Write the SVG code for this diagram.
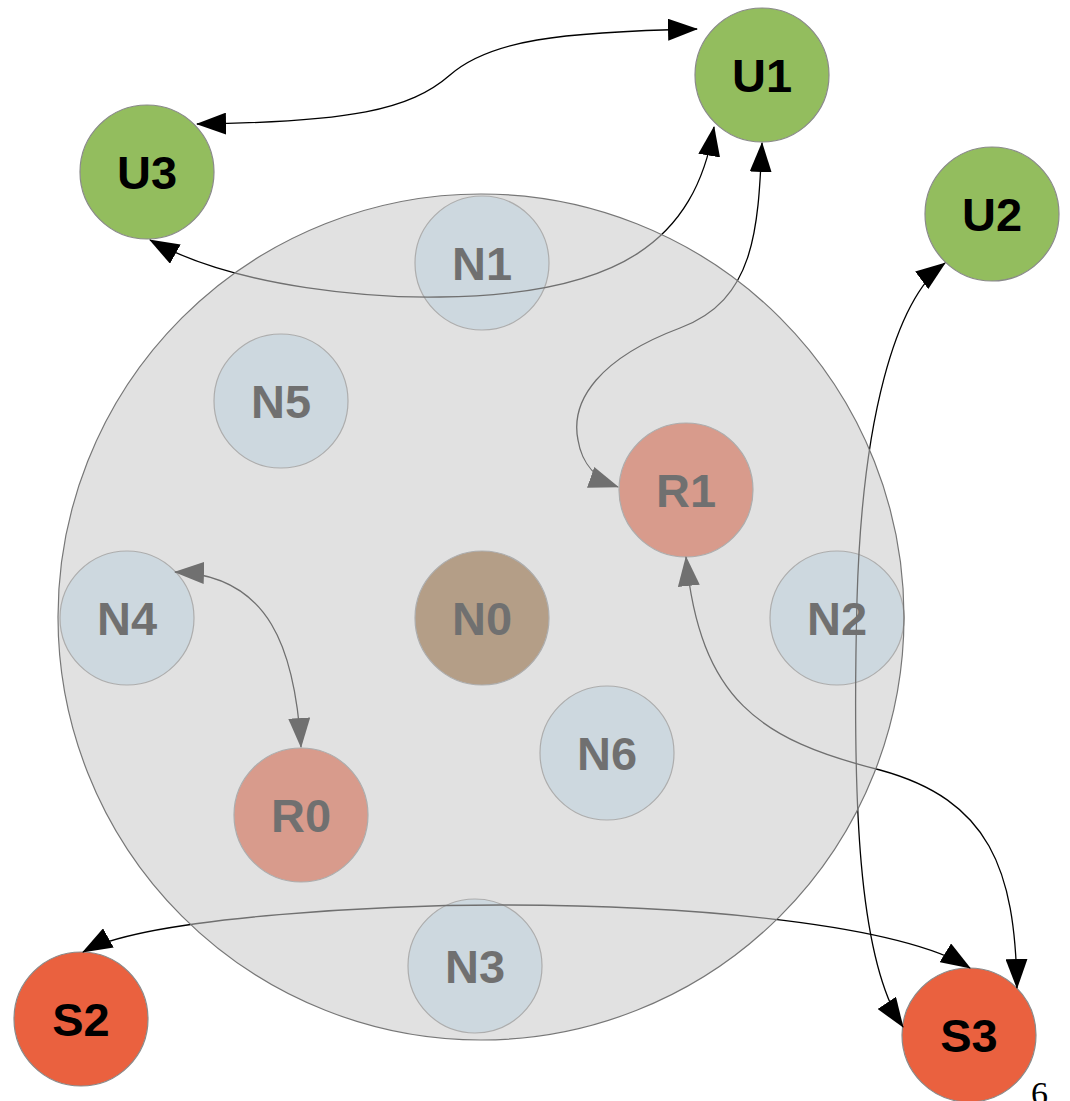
<svg xmlns="http://www.w3.org/2000/svg" width="1070" height="1101" viewBox="0 0 1070 1101">
<defs>
<marker id="arr" viewBox="0 0 30 22" refX="29" refY="11" markerWidth="30" markerHeight="22" markerUnits="userSpaceOnUse" orient="auto-start-reverse">
<path d="M0,0 L30,11 L0,22 z" fill="#000"/>
</marker>
</defs>
<style>
.node circle{stroke:#8a8a8a;stroke-width:1.2}
.node text{font-family:"Liberation Sans",Arial,sans-serif;font-weight:bold;font-size:47px;text-anchor:middle;fill:#000}
.u{fill:#93bd5e}
.s{fill:#ea613f}
.n{fill:#d2ebfa}
.n0{fill:#996834}
.edge{fill:none;stroke:#000;stroke-width:1.3;marker-start:url(#arr);marker-end:url(#arr)}
</style>
<rect width="1070" height="1101" fill="#fff"/>
<g id="U1" class="node"><circle class="u" cx="762" cy="75" r="67"/><text x="762" y="92">U1</text></g>
<g id="U3" class="node"><circle class="u" cx="147" cy="172" r="67"/><text x="147" y="189">U3</text></g>
<g id="U2" class="node"><circle class="u" cx="992" cy="214" r="67"/><text x="992" y="231">U2</text></g>
<g id="N1" class="node"><circle class="n" cx="482" cy="263" r="67"/><text x="482" y="280">N1</text></g>
<g id="N5" class="node"><circle class="n" cx="281" cy="401" r="67"/><text x="281" y="418">N5</text></g>
<g id="R1" class="node"><circle class="s" cx="686" cy="490" r="67"/><text x="686" y="507">R1</text></g>
<g id="N4" class="node"><circle class="n" cx="127" cy="618" r="67"/><text x="127" y="635">N4</text></g>
<g id="N0" class="node"><circle class="n0" cx="482" cy="618" r="67"/><text x="482" y="635">N0</text></g>
<g id="N2" class="node"><circle class="n" cx="837" cy="618" r="67"/><text x="837" y="635">N2</text></g>
<g id="N6" class="node"><circle class="n" cx="607" cy="753" r="67"/><text x="607" y="770">N6</text></g>
<g id="R0" class="node"><circle class="s" cx="301" cy="815" r="67"/><text x="301" y="832">R0</text></g>
<g id="N3" class="node"><circle class="n" cx="475" cy="966" r="67"/><text x="475" y="983">N3</text></g>
<g id="S2" class="node"><circle class="s" cx="81" cy="1019" r="67"/><text x="81" y="1036">S2</text></g>
<g id="S3" class="node"><circle class="s" cx="969" cy="1035" r="67"/><text x="969" y="1052">S3</text></g>
<g id="connectors">
<path class="edge" d="M 197 124 C 350 122 410 110 450 75 C 490 40 560 32 697 29"/>
<path class="edge" d="M 150 240 C 240 290 380 298 440 297 C 620 295 695 240 714 127"/>
<path class="edge" d="M 762 143 C 758 230 755 300 680 328 C 600 358 570 400 578 440 C 582 465 598 480 618 487"/>
<path class="edge" d="M 945 263 C 895 300 862 420 857 600 C 852 800 858 960 903 1027"/>
<path class="edge" d="M 686 557 C 700 700 760 740 880 770 C 990 800 1015 870 1017 988"/>
<path class="edge" d="M 83 952 C 150 915 400 905 500 905 C 700 905 900 925 970 968"/>
<path class="edge" d="M 175 572 C 270 575 295 650 301 747"/>
</g>
<circle id="cluster" cx="481" cy="617" r="423" fill="rgb(201,201,201)" fill-opacity="0.557" stroke="#777" stroke-width="1.2"/>
<text x="1031" y="1105" font-family="Liberation Serif,serif" font-size="34" fill="#000">6</text>
</svg>
